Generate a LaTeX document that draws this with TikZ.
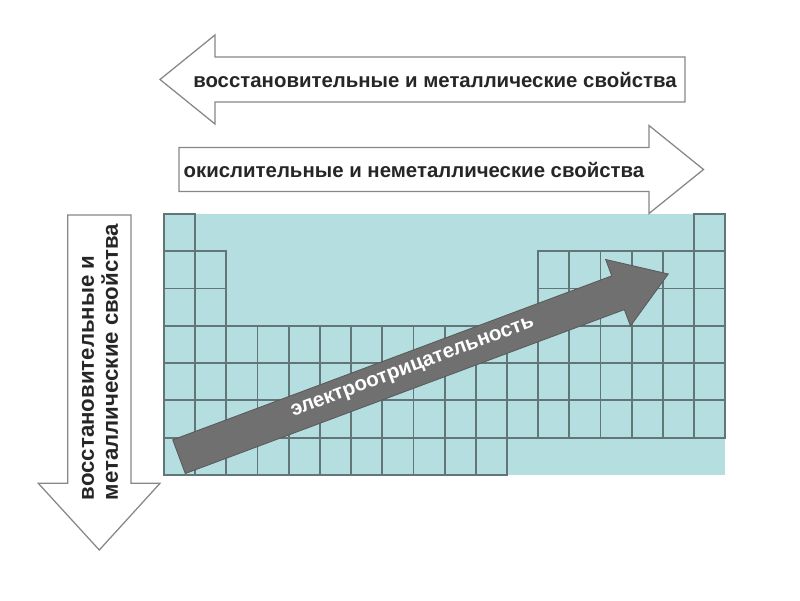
\documentclass[tikz,border=0pt]{standalone}
\usepackage{fontspec}
\setmainfont{Liberation Sans}
\usetikzlibrary{calc,positioning}
\definecolor{tablebg}{RGB}{181,222,225}
\definecolor{gridline}{RGB}{98,118,120}
\definecolor{arrowgray}{RGB}{112,112,112}
\definecolor{outlinegray}{RGB}{135,135,135}

\begin{document}
\begin{tikzpicture}[x=0.025cm,y=0.025cm,
		cell/.style={draw=gridline,line width=1.3pt},
		wide arrow/.style={draw=outlinegray,fill=white,line width=0.9pt},
		prop/.style={font=\bfseries\fontsize{14.5}{17}\selectfont,text=black!85},
		]
		\useasboundingbox (0,0) rectangle (800,600);
		
		% table
		\begin{scope}[shift={(164,125)},x=0.77925cm,y=0.93225cm]
			\fill[tablebg] (0,0) rectangle (18,7);
			\foreach \x in {0,17}
			\draw[cell] (\x,6) rectangle +(1,1);
			\foreach \y in {4,5}
			\foreach \x in {0,1,12,13,...,17}
			\draw[cell] (\x,\y) rectangle +(1,1);
			\foreach \y in {1,2,3}
			\foreach \x in {0,...,17}
			\draw[cell] (\x,\y) rectangle +(1,1);
			\foreach \x in {0,...,10}
			\draw[cell] (\x,0) rectangle +(1,1);
		\end{scope}
		
		% left arrow
		\draw[wide arrow] (685,498) -- (215,498) -- (215,476) -- (160,520.5)
		-- (215,565) -- (215,543) -- (685,543) -- cycle;
		\node[prop] (reducing) at (435,520) {восстановительные и металлические свойства};
		
		% right arrow
		\draw[wide arrow] (179,408.5) -- (649,408.5) -- (649,386.5) -- (703.5,430.5)
		-- (649,474.5) -- (649,452.5) -- (179,452.5) -- cycle;
		\node[prop] (oxidizing) at (414,430) {окислительные и неметаллические свойства};
		
		% down arrow
		\draw[wide arrow] (67.7,385) -- (67.7,116.7) -- (38.3,116.7) -- (99.3,50)
		-- (160,116.7) -- (131,116.7) -- (131,385) -- cycle;
		\node[prop,font=\bfseries\fontsize{15.8}{17}\selectfont,rotate=90,anchor=west,align=left]
		(groupdown) at (100,95) {восстановительные и\\металлические свойства};
		
		% electronegativity
		\begin{scope}[shift={(179,143.3)},rotate=20.48]
			\draw[fill=arrowgray,draw=arrowgray!80!black,line width=0.6pt] (0,-18) -- (468.7,-18)
			-- (468.7,-35.5) -- (522.3,0) -- (468.7,35.5) -- (468.7,18) -- (0,18) -- cycle;
			\node[font=\bfseries\fontsize{14.6}{17}\selectfont,text=white,rotate=20.48]
			(electro) at (250,1) {электроотрицательность};
		\end{scope}
	\end{tikzpicture}
\end{document}
